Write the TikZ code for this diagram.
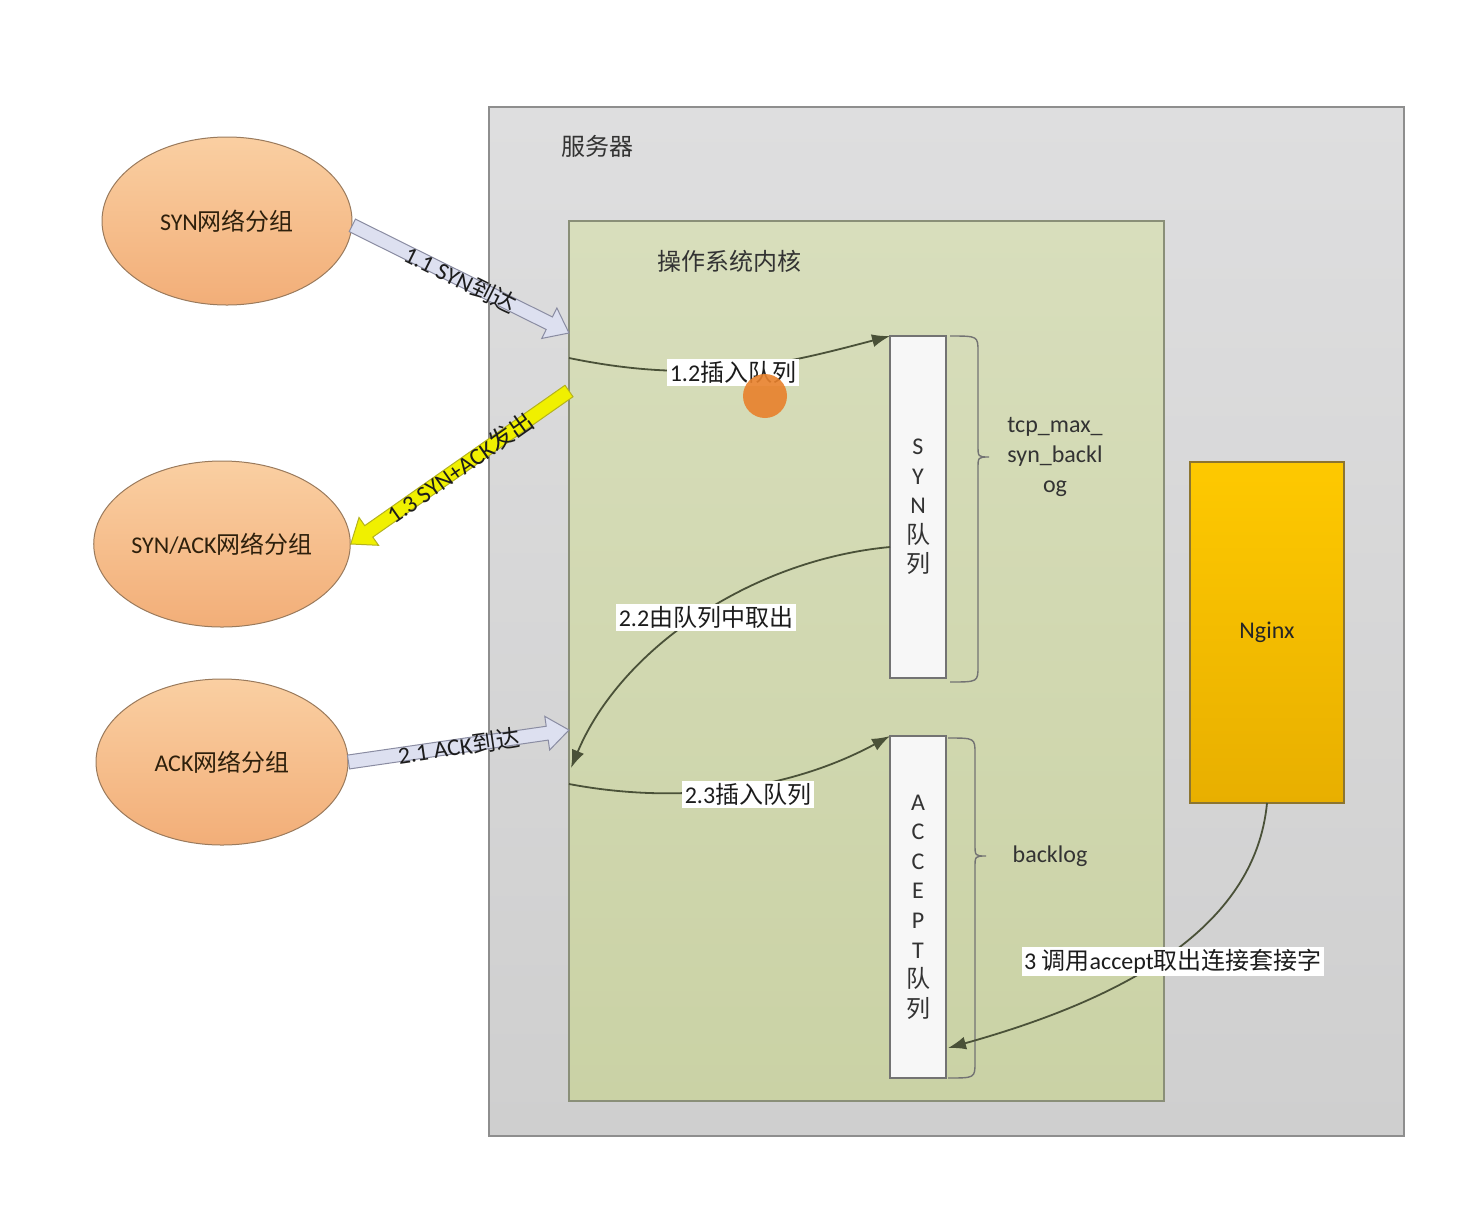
\documentclass[tikz,border=0pt]{standalone}
\usepackage{fontspec}
\setmainfont{Carlito}
\newfontfamily\cjk{Noto Sans CJK SC}
\usetikzlibrary{calc,arrows.meta,shapes.geometric}
\definecolor{srvtop}{HTML}{DEDEDF}
\definecolor{srvbot}{HTML}{CFCFCF}
\definecolor{srvline}{HTML}{8E8E8E}
\definecolor{krntop}{HTML}{D8DEBC}
\definecolor{krnbot}{HTML}{CAD2A5}
\definecolor{krnline}{HTML}{8A8F78}
\definecolor{elltop}{HTML}{FACFA2}
\definecolor{ellbot}{HTML}{F2AE78}
\definecolor{ellline}{HTML}{9A7A5C}
\definecolor{elltext}{HTML}{2E200C}
\definecolor{ngtop}{HTML}{FEC900}
\definecolor{ngbot}{HTML}{E8AF00}
\definecolor{ngline}{HTML}{8C7530}
\definecolor{connc}{HTML}{4A5138}
\definecolor{bluefill}{HTML}{DDE0F0}
\definecolor{blueline}{HTML}{8A8CA2}
\definecolor{yelfill}{HTML}{F0F000}
\definecolor{yelline}{HTML}{B4B21E}
\definecolor{txt}{HTML}{1C1C1C}
\definecolor{cursor}{HTML}{E8812C}
\newcommand\blockarr[3]{%
  \coordinate (hb) at ($(#3)!11pt!(#2)$);
  \path[#1] ($(#2)!3.5pt!90:(#3)$) -- ($(hb)!3.5pt!90:(#3)$) -- ($(hb)!8.5pt!90:(#3)$)
    -- (#3) -- ($(hb)!8.5pt!-90:(#3)$) -- ($(hb)!3.5pt!-90:(#3)$) -- ($(#2)!3.5pt!-90:(#3)$) -- cycle;}
\begin{document}
\begin{tikzpicture}[x=0.5pt,y=-0.5pt,
  box/.style={draw, anchor=north west, inner sep=0pt, outer sep=0pt, line width=0.6pt},
  ellnode/.style={ellipse, draw=ellline, line width=0.5pt, top color=elltop, bottom color=ellbot,
    minimum width=126pt, minimum height=83pt, inner sep=0pt, text=elltext, font=\fontsize{12}{14}\selectfont},
  queue/.style={box, draw=black!55, fill=white!97!black, minimum width=28pt, minimum height=171pt,
    align=center, text=black!80, font=\fontsize{12}{14.8}\selectfont},
  conn/.style={draw=connc, line width=0.9pt, -{Latex[length=9pt,width=6.5pt]}},
  lbl/.style={fill=white, inner sep=1.2pt, text=txt, font=\fontsize{12}{14}\selectfont},
  arrlbl/.style={text=txt, inner sep=0pt, font=\fontsize{12}{14}\selectfont},
  bluearr/.style={fill=bluefill, draw=blueline, line width=0.5pt},
  yelarr/.style={fill=yelfill, draw=yelline, line width=0.5pt},
  brace/.style={draw=black!55, line width=0.7pt},
  plain/.style={text=black!80, inner sep=0pt, font=\fontsize{12}{14}\selectfont}]
\fill[white] (0,0) rectangle (1462,1206);
\useasboundingbox (0,0) rectangle (1462,1206);

% server and kernel
\node[box, draw=srvline, top color=srvtop, bottom color=srvbot,
  minimum width=457.5pt, minimum height=514.5pt] (server) at (489,107) {};
\node[plain] (srvlbl) at (597,146) {\cjk 服务器};
\node[box, draw=krnline, top color=krntop, bottom color=krnbot,
  minimum width=297.5pt, minimum height=440pt] (kernel) at (569,221) {};
\node[plain] (krnlbl) at (729,261) {\cjk 操作系统内核};

% queues
\node[queue] (synq) at (890,336) {S\\Y\\N\\{\cjk 队}\\{\cjk 列}};
\node[queue] (accq) at (890,736) {A\\C\\C\\E\\P\\T\\{\cjk 队}\\{\cjk 列}};

% braces
\draw[brace] (950,336) .. controls (978,336) .. (978,352) -- (978,445)
  .. controls (978,457) .. (989,457) .. controls (978,457) .. (978,469) -- (978,666)
  .. controls (978,682) .. (950,682);
\draw[brace] (948,738) .. controls (975,738) .. (975,754) -- (975,844)
  .. controls (975,856) .. (986,856) .. controls (975,856) .. (975,868) -- (975,1062)
  .. controls (975,1078) .. (948,1078);
\node[plain, align=center, font=\fontsize{12}{15}\selectfont] (tcplbl) at (1055,457) {tcp\_max\_\\syn\_backl\\og};
\node[plain] (bklbl) at (1050,856) {backlog};

% nginx
\node[box, draw=ngline, top color=ngtop, bottom color=ngbot,
  minimum width=77pt, minimum height=170.5pt, font=\fontsize{12}{14}\selectfont, text=black!85] (nginx) at (1190,462) {Nginx};

% ellipses
\node[ellnode, minimum width=125pt, minimum height=84pt] (syn) at (227,221) {SYN{\cjk 网络分组}};
\node[ellnode] (synack) at (222,544) {SYN/ACK{\cjk 网络分组}};
\node[ellnode] (ack) at (222,762) {ACK{\cjk 网络分组}};

% block arrows
\coordinate (k11) at ($(kernel.north west)+(0,112)$);
\coordinate (k13) at ($(kernel.north west)+(0,170)$);
\coordinate (k21) at ($(kernel.north west)+(0,509)$);
\coordinate (s11) at (syn.-2);
\blockarr{bluearr}{s11}{k11}
\path (s11) -- (k11) node[midway, sloped, arrlbl] (l11) {1.1 SYN{\cjk 到达}};
\blockarr{yelarr}{k13}{synack.east}
\path (k13) -- (synack.east) node[midway, sloped, arrlbl] (l13) {1.3 SYN+ACK{\cjk 发出}};
\blockarr{bluearr}{ack.east}{k21}
\path (ack.east) -- (k21) node[midway, sloped, arrlbl] (l21) {2.1 ACK{\cjk 到达}};

% curved connectors
\coordinate (k12) at ($(kernel.north west)+(0,137)$);
\coordinate (k22) at ($(kernel.north west)+(2,547)$);
\coordinate (k23) at ($(kernel.north west)+(0,563)$);
\coordinate (q22) at ($(synq.north west)+(0,211)$);
\coordinate (q3) at ($(accq.north east)+(2,312)$);
\draw[conn] (k12) .. controls (700,385) and (780,365) .. (synq.north west);
\node[lbl] (l12) at (733,372) {1.2{\cjk 插入队列}};
\draw[conn] (q22) .. controls (750,560) and (620,650) .. (k22);
\node[lbl] (l22) at (706,617) {2.2{\cjk 由队列中取出}};
\draw[conn] (k23) .. controls (680,805) and (790,790) .. (accq.north west);
\node[lbl] (l23) at (748,794) {2.3{\cjk 插入队列}};
\draw[conn] (nginx.south) .. controls (1255,930) and (1120,1000) .. (q3);
\node[lbl] (l3) at (1173,961) {3 {\cjk 调用}accept{\cjk 取出连接套接字}};

% cursor highlight
\fill[cursor, opacity=0.9] (765,396) circle[radius=11pt];
\end{tikzpicture}
\end{document}
